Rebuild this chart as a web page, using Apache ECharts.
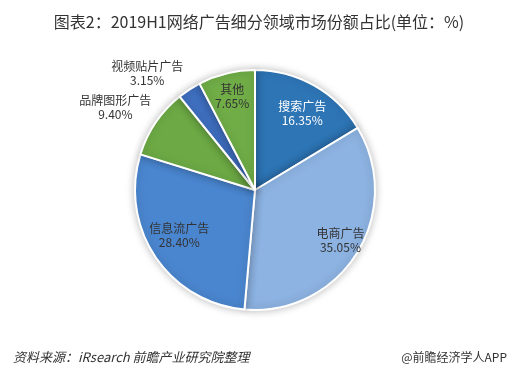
<!DOCTYPE html>
<html><head><meta charset="utf-8">
<script src="https://cdn.jsdelivr.net/npm/echarts@6/dist/echarts.min.js"></script>
<style>html,body{margin:0;padding:0;background:#fff}#c{width:518px;height:380px}</style>
</head><body><div id="c"></div>
<script>
const categories = ['搜索广告','电商广告','信息流广告','品牌图形广告','视频贴片广告','其他'];
const values = [16.35, 35.05, 28.40, 9.40, 3.15, 7.65];
const colors = ['#2E75B6','#8DB3E2','#4A86CF','#6DAA45','#3F6FC0','#70AD47'];
const insideLabel = [true, true, true, false, false, true];
const labelColors = ['#ffffff','#333333','#333333','#333333','#333333','#333333'];
const labelOffsets = [[0,7],[4,0],[4,-8],[-4,10],[-18,21],[0,0]];

const chart = echarts.init(document.getElementById('c'));
const font = '"Noto Sans CJK SC", sans-serif';
const center = [255, 190];
function mk(filter){
  return categories.map((n,i)=>({name:n, value:values[i],
    label:{show:filter(i), color:labelColors[i], offset:labelOffsets[i]}}));
}
chart.setOption({
  animation:false,
  title:[
    {text:'图表2：2019H1网络广告细分领域市场份额占比(单位：%)', left:'center', top:9,
     textStyle:{fontFamily:font, fontSize:16, fontWeight:'normal', color:'#333'}},
    {text:'资料来源：iRsearch 前瞻产业研究院整理', left:8, top:346,
     textStyle:{fontFamily:font, fontSize:13, fontWeight:'normal', fontStyle:'italic', color:'#333'}},
    {text:'@前瞻经济学人APP', right:6, top:346,
     textStyle:{fontFamily:font, fontSize:12, fontWeight:'normal', color:'#333'}}
  ],
  series:[
    {type:'pie', center:center, radius:120, startAngle:90, clockwise:true,
     silent:true,
     data:categories.map((n,i)=>({name:n,value:values[i],itemStyle:{color:colors[i]}})),
     itemStyle:{borderColor:'#fff', borderWidth:2, shadowBlur:8, shadowColor:'rgba(0,0,0,0.25)'},
     label:{show:false}, labelLine:{show:false}},
    {type:'pie', center:center, radius:186, startAngle:90, clockwise:true, silent:true,
     data:mk(i=>insideLabel[i]),
     itemStyle:{color:'rgba(0,0,0,0)', borderWidth:0},
     label:{position:'inside', formatter:p=>p.name+'\n'+p.value.toFixed(2)+'%',
       fontFamily:font, fontSize:12, lineHeight:14},
     labelLine:{show:false}},
    {type:'pie', center:center, radius:322, startAngle:90, clockwise:true, silent:true,
     data:mk(i=>!insideLabel[i]),
     itemStyle:{color:'rgba(0,0,0,0)', borderWidth:0},
     label:{position:'inside', formatter:p=>p.name+'\n'+p.value.toFixed(2)+'%',
       fontFamily:font, fontSize:12, lineHeight:14},
     labelLine:{show:false}}
  ]
});
</script></body></html>
